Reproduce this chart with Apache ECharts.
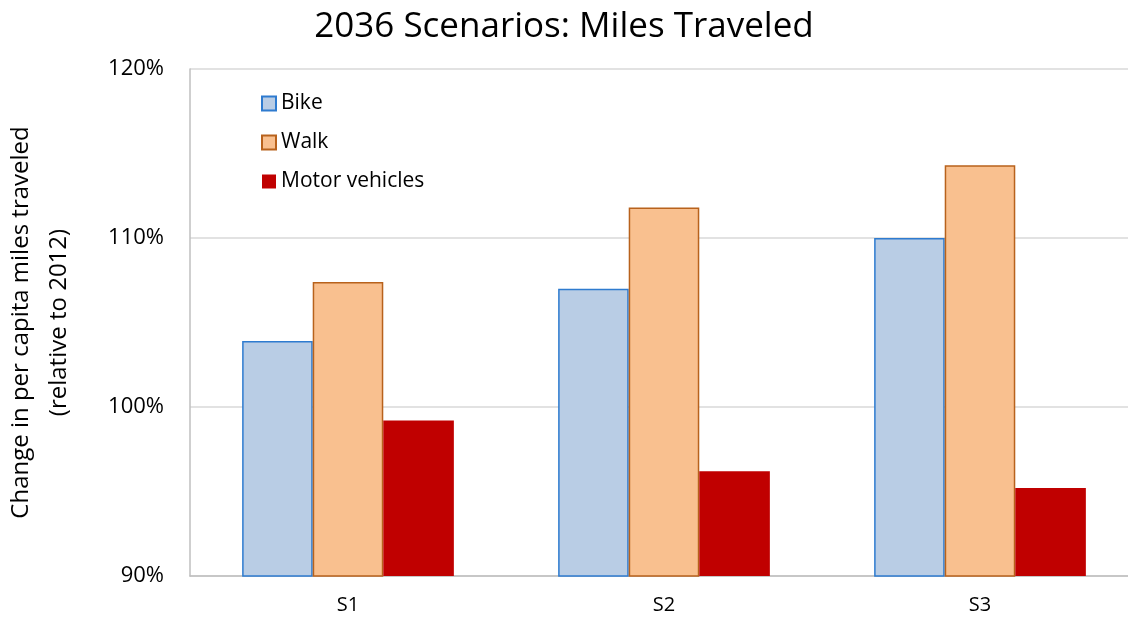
<!DOCTYPE html>
<html>
<head>
<meta charset="utf-8">
<script src="https://cdn.jsdelivr.net/npm/echarts@6/dist/echarts.min.js"></script>
<style>
  html, body { margin: 0; padding: 0; background: #fff; overflow: hidden; }
  #chart { width: 1128px; height: 623px; }
</style>
</head>
<body>
<div id="chart"></div>
<script>
// categories and values (percent of 2012)
const scenarios = ['S1', 'S2', 'S3'];
const bike = [103.9, 107.0, 110.0];
const walk = [107.4, 111.8, 114.3];
const motor = [99.2, 96.2, 95.2];

const font = '"Open Sans", sans-serif';

const chart = echarts.init(document.getElementById('chart'), null, { renderer: 'canvas' });

chart.setOption({
  backgroundColor: '#fff',
  animation: false,
  title: {
    text: '2036 Scenarios: Miles Traveled',
    left: 'center',
    top: 5,
    textStyle: { fontFamily: font, fontSize: 35, fontWeight: 'normal', color: '#000' }
  },
  legend: {
    orient: 'vertical',
    left: 256,
    top: 84,
    icon: 'rect',
    itemWidth: 14,
    itemHeight: 14,
    itemGap: 10,
    textStyle: { fontFamily: font, fontSize: 21, color: '#000', lineHeight: 29 },
    data: ['Bike', 'Walk', 'Motor vehicles']
  },
  // right edge of plot runs past the image, as in the reference
  grid: { left: 190, right: -10, top: 69, bottom: 47, outerBoundsMode: 'none' },
  xAxis: {
    type: 'category',
    data: scenarios,
    axisLine: { lineStyle: { color: '#bfbfbf', width: 1.5 } },
    axisTick: { show: false },
    axisLabel: { fontFamily: font, fontSize: 20, color: '#000', margin: 19 }
  },
  yAxis: {
    type: 'value',
    min: 90,
    max: 120,
    interval: 10,
    name: 'Change in per capita miles traveled\n(relative to 2012)',
    nameLocation: 'middle',
    nameGap: 112,
    nameTextStyle: { fontFamily: font, fontSize: 24, color: '#000', lineHeight: 38 },
    axisLine: { show: true, lineStyle: { color: '#bfbfbf', width: 1.5 } },
    axisTick: { show: false },
    axisLabel: {
      fontFamily: font, fontSize: 22, color: '#000', margin: 26,
      formatter: v => v + '%'
    },
    splitLine: { lineStyle: { color: '#d9d9d9', width: 1.5 } }
  },
  series: [
    {
      name: 'Bike', type: 'bar', data: bike,
      barGap: '0%', barCategoryGap: '33%',
      itemStyle: { color: '#b9cde5', borderColor: '#2e7bcf', borderWidth: 1.5 }
    },
    {
      name: 'Walk', type: 'bar', data: walk,
      itemStyle: { color: '#f9c08f', borderColor: '#b8621c', borderWidth: 1.5 }
    },
    {
      name: 'Motor vehicles', type: 'bar', data: motor,
      itemStyle: { color: '#c00000' }
    }
  ]
});
</script>
</body>
</html>
